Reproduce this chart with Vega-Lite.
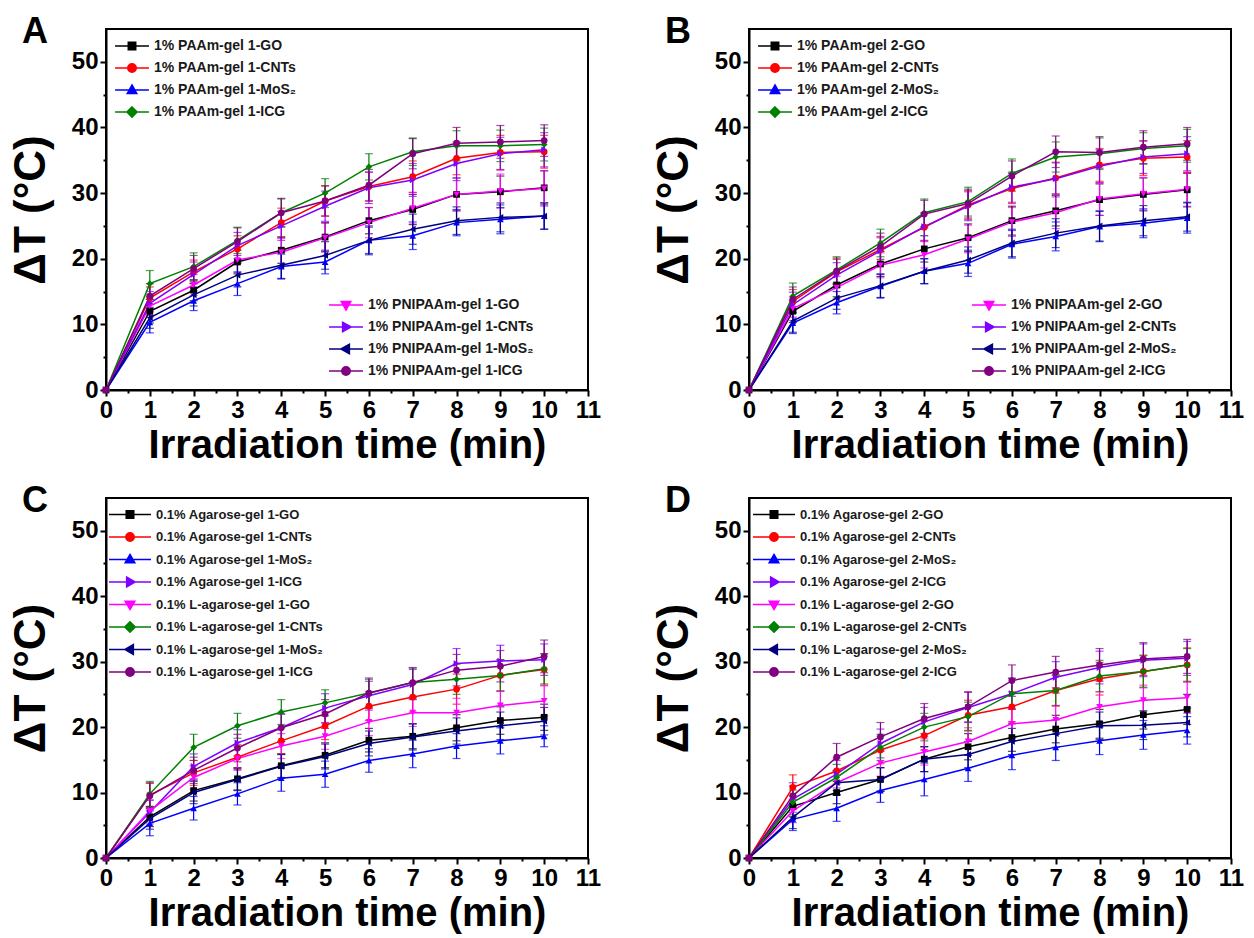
{
"$schema": "https://vega.github.io/schema/vega-lite/v6.json",
"padding": {"left": 8, "top": 13, "right": 5, "bottom": 5},
"columns": 2,
"spacing": {"row": 108, "column": 161},
"bounds": "flush",
"data": {"values": [
{"panel":"A","series":"1% PAAm-gel 1-GO","t":0,"dT":0,"err":0},{"panel":"A","series":"1% PAAm-gel 1-GO","t":1,"dT":12.0,"err":1.8},{"panel":"A","series":"1% PAAm-gel 1-GO","t":2,"dT":15.2,"err":1.6},{"panel":"A","series":"1% PAAm-gel 1-GO","t":3,"dT":19.5,"err":1.8},{"panel":"A","series":"1% PAAm-gel 1-GO","t":4,"dT":21.3,"err":2.0},{"panel":"A","series":"1% PAAm-gel 1-GO","t":5,"dT":23.3,"err":2.2},{"panel":"A","series":"1% PAAm-gel 1-GO","t":6,"dT":25.8,"err":2.0},{"panel":"A","series":"1% PAAm-gel 1-GO","t":7,"dT":27.5,"err":2.3},{"panel":"A","series":"1% PAAm-gel 1-GO","t":8,"dT":29.8,"err":2.5},{"panel":"A","series":"1% PAAm-gel 1-GO","t":9,"dT":30.2,"err":2.4},{"panel":"A","series":"1% PAAm-gel 1-GO","t":10,"dT":30.8,"err":2.6},
{"panel":"A","series":"1% PAAm-gel 1-CNTs","t":0,"dT":0,"err":0},{"panel":"A","series":"1% PAAm-gel 1-CNTs","t":1,"dT":14.0,"err":1.7},{"panel":"A","series":"1% PAAm-gel 1-CNTs","t":2,"dT":18.0,"err":1.8},{"panel":"A","series":"1% PAAm-gel 1-CNTs","t":3,"dT":21.5,"err":2.0},{"panel":"A","series":"1% PAAm-gel 1-CNTs","t":4,"dT":25.5,"err":2.2},{"panel":"A","series":"1% PAAm-gel 1-CNTs","t":5,"dT":28.8,"err":2.3},{"panel":"A","series":"1% PAAm-gel 1-CNTs","t":6,"dT":31.0,"err":2.2},{"panel":"A","series":"1% PAAm-gel 1-CNTs","t":7,"dT":32.5,"err":2.4},{"panel":"A","series":"1% PAAm-gel 1-CNTs","t":8,"dT":35.3,"err":2.5},{"panel":"A","series":"1% PAAm-gel 1-CNTs","t":9,"dT":36.2,"err":2.6},{"panel":"A","series":"1% PAAm-gel 1-CNTs","t":10,"dT":36.3,"err":2.5},
{"panel":"A","series":"1% PAAm-gel 1-MoS₂","t":0,"dT":0,"err":0},{"panel":"A","series":"1% PAAm-gel 1-MoS₂","t":1,"dT":10.3,"err":1.6},{"panel":"A","series":"1% PAAm-gel 1-MoS₂","t":2,"dT":13.6,"err":1.5},{"panel":"A","series":"1% PAAm-gel 1-MoS₂","t":3,"dT":16.2,"err":1.8},{"panel":"A","series":"1% PAAm-gel 1-MoS₂","t":4,"dT":18.8,"err":1.9},{"panel":"A","series":"1% PAAm-gel 1-MoS₂","t":5,"dT":19.5,"err":1.8},{"panel":"A","series":"1% PAAm-gel 1-MoS₂","t":6,"dT":22.8,"err":2.0},{"panel":"A","series":"1% PAAm-gel 1-MoS₂","t":7,"dT":23.5,"err":2.1},{"panel":"A","series":"1% PAAm-gel 1-MoS₂","t":8,"dT":25.5,"err":2.0},{"panel":"A","series":"1% PAAm-gel 1-MoS₂","t":9,"dT":26.0,"err":2.2},{"panel":"A","series":"1% PAAm-gel 1-MoS₂","t":10,"dT":26.5,"err":2.0},
{"panel":"A","series":"1% PAAm-gel 1-ICG","t":0,"dT":0,"err":0},{"panel":"A","series":"1% PAAm-gel 1-ICG","t":1,"dT":16.2,"err":2.0},{"panel":"A","series":"1% PAAm-gel 1-ICG","t":2,"dT":18.8,"err":2.1},{"panel":"A","series":"1% PAAm-gel 1-ICG","t":3,"dT":22.8,"err":2.0},{"panel":"A","series":"1% PAAm-gel 1-ICG","t":4,"dT":27.0,"err":2.1},{"panel":"A","series":"1% PAAm-gel 1-ICG","t":5,"dT":30.0,"err":2.2},{"panel":"A","series":"1% PAAm-gel 1-ICG","t":6,"dT":34.0,"err":2.0},{"panel":"A","series":"1% PAAm-gel 1-ICG","t":7,"dT":36.3,"err":2.1},{"panel":"A","series":"1% PAAm-gel 1-ICG","t":8,"dT":37.2,"err":2.3},{"panel":"A","series":"1% PAAm-gel 1-ICG","t":9,"dT":37.2,"err":2.4},{"panel":"A","series":"1% PAAm-gel 1-ICG","t":10,"dT":37.4,"err":2.5},
{"panel":"A","series":"1% PNIPAAm-gel 1-GO","t":0,"dT":0,"err":0},{"panel":"A","series":"1% PNIPAAm-gel 1-GO","t":1,"dT":12.8,"err":1.7},{"panel":"A","series":"1% PNIPAAm-gel 1-GO","t":2,"dT":16.0,"err":1.6},{"panel":"A","series":"1% PNIPAAm-gel 1-GO","t":3,"dT":19.8,"err":1.9},{"panel":"A","series":"1% PNIPAAm-gel 1-GO","t":4,"dT":21.0,"err":2.1},{"panel":"A","series":"1% PNIPAAm-gel 1-GO","t":5,"dT":23.2,"err":2.2},{"panel":"A","series":"1% PNIPAAm-gel 1-GO","t":6,"dT":25.5,"err":2.3},{"panel":"A","series":"1% PNIPAAm-gel 1-GO","t":7,"dT":27.7,"err":2.4},{"panel":"A","series":"1% PNIPAAm-gel 1-GO","t":8,"dT":29.8,"err":2.5},{"panel":"A","series":"1% PNIPAAm-gel 1-GO","t":9,"dT":30.3,"err":2.6},{"panel":"A","series":"1% PNIPAAm-gel 1-GO","t":10,"dT":30.7,"err":2.7},
{"panel":"A","series":"1% PNIPAAm-gel 1-CNTs","t":0,"dT":0,"err":0},{"panel":"A","series":"1% PNIPAAm-gel 1-CNTs","t":1,"dT":13.2,"err":1.8},{"panel":"A","series":"1% PNIPAAm-gel 1-CNTs","t":2,"dT":17.6,"err":1.9},{"panel":"A","series":"1% PNIPAAm-gel 1-CNTs","t":3,"dT":22.0,"err":2.0},{"panel":"A","series":"1% PNIPAAm-gel 1-CNTs","t":4,"dT":25.0,"err":2.2},{"panel":"A","series":"1% PNIPAAm-gel 1-CNTs","t":5,"dT":28.0,"err":2.3},{"panel":"A","series":"1% PNIPAAm-gel 1-CNTs","t":6,"dT":30.8,"err":2.4},{"panel":"A","series":"1% PNIPAAm-gel 1-CNTs","t":7,"dT":32.0,"err":2.5},{"panel":"A","series":"1% PNIPAAm-gel 1-CNTs","t":8,"dT":34.5,"err":2.6},{"panel":"A","series":"1% PNIPAAm-gel 1-CNTs","t":9,"dT":36.0,"err":2.5},{"panel":"A","series":"1% PNIPAAm-gel 1-CNTs","t":10,"dT":36.6,"err":2.6},
{"panel":"A","series":"1% PNIPAAm-gel 1-MoS₂","t":0,"dT":0,"err":0},{"panel":"A","series":"1% PNIPAAm-gel 1-MoS₂","t":1,"dT":11.0,"err":1.6},{"panel":"A","series":"1% PNIPAAm-gel 1-MoS₂","t":2,"dT":14.5,"err":1.7},{"panel":"A","series":"1% PNIPAAm-gel 1-MoS₂","t":3,"dT":17.5,"err":1.8},{"panel":"A","series":"1% PNIPAAm-gel 1-MoS₂","t":4,"dT":19.0,"err":2.0},{"panel":"A","series":"1% PNIPAAm-gel 1-MoS₂","t":5,"dT":20.5,"err":2.1},{"panel":"A","series":"1% PNIPAAm-gel 1-MoS₂","t":6,"dT":22.8,"err":2.2},{"panel":"A","series":"1% PNIPAAm-gel 1-MoS₂","t":7,"dT":24.5,"err":2.3},{"panel":"A","series":"1% PNIPAAm-gel 1-MoS₂","t":8,"dT":25.8,"err":2.1},{"panel":"A","series":"1% PNIPAAm-gel 1-MoS₂","t":9,"dT":26.3,"err":2.2},{"panel":"A","series":"1% PNIPAAm-gel 1-MoS₂","t":10,"dT":26.5,"err":2.0},
{"panel":"A","series":"1% PNIPAAm-gel 1-ICG","t":0,"dT":0,"err":0},{"panel":"A","series":"1% PNIPAAm-gel 1-ICG","t":1,"dT":14.3,"err":1.9},{"panel":"A","series":"1% PNIPAAm-gel 1-ICG","t":2,"dT":18.5,"err":2.0},{"panel":"A","series":"1% PNIPAAm-gel 1-ICG","t":3,"dT":22.6,"err":2.1},{"panel":"A","series":"1% PNIPAAm-gel 1-ICG","t":4,"dT":27.0,"err":2.2},{"panel":"A","series":"1% PNIPAAm-gel 1-ICG","t":5,"dT":28.8,"err":2.3},{"panel":"A","series":"1% PNIPAAm-gel 1-ICG","t":6,"dT":31.2,"err":2.4},{"panel":"A","series":"1% PNIPAAm-gel 1-ICG","t":7,"dT":36.0,"err":2.3},{"panel":"A","series":"1% PNIPAAm-gel 1-ICG","t":8,"dT":37.6,"err":2.4},{"panel":"A","series":"1% PNIPAAm-gel 1-ICG","t":9,"dT":37.8,"err":2.5},{"panel":"A","series":"1% PNIPAAm-gel 1-ICG","t":10,"dT":38.0,"err":2.4},
{"panel":"B","series":"1% PAAm-gel 2-GO","t":0,"dT":0,"err":0},{"panel":"B","series":"1% PAAm-gel 2-GO","t":1,"dT":12.0,"err":1.7},{"panel":"B","series":"1% PAAm-gel 2-GO","t":2,"dT":16.0,"err":1.8},{"panel":"B","series":"1% PAAm-gel 2-GO","t":3,"dT":19.2,"err":1.9},{"panel":"B","series":"1% PAAm-gel 2-GO","t":4,"dT":21.5,"err":2.0},{"panel":"B","series":"1% PAAm-gel 2-GO","t":5,"dT":23.2,"err":2.1},{"panel":"B","series":"1% PAAm-gel 2-GO","t":6,"dT":25.8,"err":2.2},{"panel":"B","series":"1% PAAm-gel 2-GO","t":7,"dT":27.3,"err":2.3},{"panel":"B","series":"1% PAAm-gel 2-GO","t":8,"dT":29.0,"err":2.4},{"panel":"B","series":"1% PAAm-gel 2-GO","t":9,"dT":29.8,"err":2.5},{"panel":"B","series":"1% PAAm-gel 2-GO","t":10,"dT":30.5,"err":2.6},
{"panel":"B","series":"1% PAAm-gel 2-CNTs","t":0,"dT":0,"err":0},{"panel":"B","series":"1% PAAm-gel 2-CNTs","t":1,"dT":13.5,"err":1.8},{"panel":"B","series":"1% PAAm-gel 2-CNTs","t":2,"dT":18.0,"err":1.9},{"panel":"B","series":"1% PAAm-gel 2-CNTs","t":3,"dT":21.4,"err":2.0},{"panel":"B","series":"1% PAAm-gel 2-CNTs","t":4,"dT":24.8,"err":2.1},{"panel":"B","series":"1% PAAm-gel 2-CNTs","t":5,"dT":28.2,"err":2.2},{"panel":"B","series":"1% PAAm-gel 2-CNTs","t":6,"dT":30.7,"err":2.3},{"panel":"B","series":"1% PAAm-gel 2-CNTs","t":7,"dT":32.3,"err":2.4},{"panel":"B","series":"1% PAAm-gel 2-CNTs","t":8,"dT":34.3,"err":2.5},{"panel":"B","series":"1% PAAm-gel 2-CNTs","t":9,"dT":35.3,"err":2.6},{"panel":"B","series":"1% PAAm-gel 2-CNTs","t":10,"dT":35.5,"err":2.5},
{"panel":"B","series":"1% PAAm-gel 2-MoS₂","t":0,"dT":0,"err":0},{"panel":"B","series":"1% PAAm-gel 2-MoS₂","t":1,"dT":10.2,"err":1.6},{"panel":"B","series":"1% PAAm-gel 2-MoS₂","t":2,"dT":13.3,"err":1.7},{"panel":"B","series":"1% PAAm-gel 2-MoS₂","t":3,"dT":15.8,"err":1.8},{"panel":"B","series":"1% PAAm-gel 2-MoS₂","t":4,"dT":18.1,"err":1.9},{"panel":"B","series":"1% PAAm-gel 2-MoS₂","t":5,"dT":19.3,"err":2.0},{"panel":"B","series":"1% PAAm-gel 2-MoS₂","t":6,"dT":22.2,"err":2.1},{"panel":"B","series":"1% PAAm-gel 2-MoS₂","t":7,"dT":23.4,"err":2.2},{"panel":"B","series":"1% PAAm-gel 2-MoS₂","t":8,"dT":24.9,"err":2.3},{"panel":"B","series":"1% PAAm-gel 2-MoS₂","t":9,"dT":25.4,"err":2.2},{"panel":"B","series":"1% PAAm-gel 2-MoS₂","t":10,"dT":26.2,"err":2.3},
{"panel":"B","series":"1% PAAm-gel 2-ICG","t":0,"dT":0,"err":0},{"panel":"B","series":"1% PAAm-gel 2-ICG","t":1,"dT":14.3,"err":2.0},{"panel":"B","series":"1% PAAm-gel 2-ICG","t":2,"dT":18.3,"err":2.0},{"panel":"B","series":"1% PAAm-gel 2-ICG","t":3,"dT":22.4,"err":2.1},{"panel":"B","series":"1% PAAm-gel 2-ICG","t":4,"dT":27.0,"err":2.1},{"panel":"B","series":"1% PAAm-gel 2-ICG","t":5,"dT":28.7,"err":2.2},{"panel":"B","series":"1% PAAm-gel 2-ICG","t":6,"dT":33.0,"err":2.2},{"panel":"B","series":"1% PAAm-gel 2-ICG","t":7,"dT":35.5,"err":2.3},{"panel":"B","series":"1% PAAm-gel 2-ICG","t":8,"dT":36.0,"err":2.4},{"panel":"B","series":"1% PAAm-gel 2-ICG","t":9,"dT":36.8,"err":2.4},{"panel":"B","series":"1% PAAm-gel 2-ICG","t":10,"dT":37.2,"err":2.5},
{"panel":"B","series":"1% PNIPAAm-gel 2-GO","t":0,"dT":0,"err":0},{"panel":"B","series":"1% PNIPAAm-gel 2-GO","t":1,"dT":12.4,"err":1.8},{"panel":"B","series":"1% PNIPAAm-gel 2-GO","t":2,"dT":15.6,"err":1.7},{"panel":"B","series":"1% PNIPAAm-gel 2-GO","t":3,"dT":19.0,"err":1.9},{"panel":"B","series":"1% PNIPAAm-gel 2-GO","t":4,"dT":20.6,"err":2.0},{"panel":"B","series":"1% PNIPAAm-gel 2-GO","t":5,"dT":23.0,"err":2.1},{"panel":"B","series":"1% PNIPAAm-gel 2-GO","t":6,"dT":25.6,"err":2.2},{"panel":"B","series":"1% PNIPAAm-gel 2-GO","t":7,"dT":27.0,"err":2.4},{"panel":"B","series":"1% PNIPAAm-gel 2-GO","t":8,"dT":29.1,"err":2.5},{"panel":"B","series":"1% PNIPAAm-gel 2-GO","t":9,"dT":29.9,"err":2.5},{"panel":"B","series":"1% PNIPAAm-gel 2-GO","t":10,"dT":30.6,"err":2.6},
{"panel":"B","series":"1% PNIPAAm-gel 2-CNTs","t":0,"dT":0,"err":0},{"panel":"B","series":"1% PNIPAAm-gel 2-CNTs","t":1,"dT":13.0,"err":1.9},{"panel":"B","series":"1% PNIPAAm-gel 2-CNTs","t":2,"dT":17.5,"err":1.9},{"panel":"B","series":"1% PNIPAAm-gel 2-CNTs","t":3,"dT":21.2,"err":2.0},{"panel":"B","series":"1% PNIPAAm-gel 2-CNTs","t":4,"dT":24.9,"err":2.1},{"panel":"B","series":"1% PNIPAAm-gel 2-CNTs","t":5,"dT":28.0,"err":2.2},{"panel":"B","series":"1% PNIPAAm-gel 2-CNTs","t":6,"dT":30.9,"err":2.3},{"panel":"B","series":"1% PNIPAAm-gel 2-CNTs","t":7,"dT":32.2,"err":2.4},{"panel":"B","series":"1% PNIPAAm-gel 2-CNTs","t":8,"dT":34.1,"err":2.5},{"panel":"B","series":"1% PNIPAAm-gel 2-CNTs","t":9,"dT":35.5,"err":2.5},{"panel":"B","series":"1% PNIPAAm-gel 2-CNTs","t":10,"dT":36.0,"err":2.6},
{"panel":"B","series":"1% PNIPAAm-gel 2-MoS₂","t":0,"dT":0,"err":0},{"panel":"B","series":"1% PNIPAAm-gel 2-MoS₂","t":1,"dT":10.5,"err":1.7},{"panel":"B","series":"1% PNIPAAm-gel 2-MoS₂","t":2,"dT":14.0,"err":1.7},{"panel":"B","series":"1% PNIPAAm-gel 2-MoS₂","t":3,"dT":15.9,"err":1.8},{"panel":"B","series":"1% PNIPAAm-gel 2-MoS₂","t":4,"dT":18.1,"err":1.9},{"panel":"B","series":"1% PNIPAAm-gel 2-MoS₂","t":5,"dT":19.8,"err":2.0},{"panel":"B","series":"1% PNIPAAm-gel 2-MoS₂","t":6,"dT":22.4,"err":2.1},{"panel":"B","series":"1% PNIPAAm-gel 2-MoS₂","t":7,"dT":23.9,"err":2.2},{"panel":"B","series":"1% PNIPAAm-gel 2-MoS₂","t":8,"dT":25.0,"err":2.3},{"panel":"B","series":"1% PNIPAAm-gel 2-MoS₂","t":9,"dT":25.8,"err":2.3},{"panel":"B","series":"1% PNIPAAm-gel 2-MoS₂","t":10,"dT":26.4,"err":2.2},
{"panel":"B","series":"1% PNIPAAm-gel 2-ICG","t":0,"dT":0,"err":0},{"panel":"B","series":"1% PNIPAAm-gel 2-ICG","t":1,"dT":13.8,"err":1.9},{"panel":"B","series":"1% PNIPAAm-gel 2-ICG","t":2,"dT":18.1,"err":2.0},{"panel":"B","series":"1% PNIPAAm-gel 2-ICG","t":3,"dT":21.9,"err":2.0},{"panel":"B","series":"1% PNIPAAm-gel 2-ICG","t":4,"dT":26.8,"err":2.1},{"panel":"B","series":"1% PNIPAAm-gel 2-ICG","t":5,"dT":28.4,"err":2.2},{"panel":"B","series":"1% PNIPAAm-gel 2-ICG","t":6,"dT":32.6,"err":2.3},{"panel":"B","series":"1% PNIPAAm-gel 2-ICG","t":7,"dT":36.3,"err":2.4},{"panel":"B","series":"1% PNIPAAm-gel 2-ICG","t":8,"dT":36.2,"err":2.4},{"panel":"B","series":"1% PNIPAAm-gel 2-ICG","t":9,"dT":37.0,"err":2.5},{"panel":"B","series":"1% PNIPAAm-gel 2-ICG","t":10,"dT":37.5,"err":2.5},
{"panel":"C","series":"0.1% Agarose-gel 1-GO","t":0,"dT":0,"err":0},{"panel":"C","series":"0.1% Agarose-gel 1-GO","t":1,"dT":6.3,"err":1.5},{"panel":"C","series":"0.1% Agarose-gel 1-GO","t":2,"dT":10.3,"err":1.6},{"panel":"C","series":"0.1% Agarose-gel 1-GO","t":3,"dT":12.1,"err":1.7},{"panel":"C","series":"0.1% Agarose-gel 1-GO","t":4,"dT":14.1,"err":1.8},{"panel":"C","series":"0.1% Agarose-gel 1-GO","t":5,"dT":15.7,"err":1.9},{"panel":"C","series":"0.1% Agarose-gel 1-GO","t":6,"dT":18.0,"err":1.8},{"panel":"C","series":"0.1% Agarose-gel 1-GO","t":7,"dT":18.6,"err":1.9},{"panel":"C","series":"0.1% Agarose-gel 1-GO","t":8,"dT":19.9,"err":2.0},{"panel":"C","series":"0.1% Agarose-gel 1-GO","t":9,"dT":21.0,"err":2.1},{"panel":"C","series":"0.1% Agarose-gel 1-GO","t":10,"dT":21.5,"err":2.0},
{"panel":"C","series":"0.1% Agarose-gel 1-CNTs","t":0,"dT":0,"err":0},{"panel":"C","series":"0.1% Agarose-gel 1-CNTs","t":1,"dT":9.6,"err":1.8},{"panel":"C","series":"0.1% Agarose-gel 1-CNTs","t":2,"dT":13.0,"err":1.9},{"panel":"C","series":"0.1% Agarose-gel 1-CNTs","t":3,"dT":15.4,"err":1.9},{"panel":"C","series":"0.1% Agarose-gel 1-CNTs","t":4,"dT":17.9,"err":2.0},{"panel":"C","series":"0.1% Agarose-gel 1-CNTs","t":5,"dT":20.2,"err":2.1},{"panel":"C","series":"0.1% Agarose-gel 1-CNTs","t":6,"dT":23.2,"err":2.2},{"panel":"C","series":"0.1% Agarose-gel 1-CNTs","t":7,"dT":24.6,"err":2.3},{"panel":"C","series":"0.1% Agarose-gel 1-CNTs","t":8,"dT":25.8,"err":2.3},{"panel":"C","series":"0.1% Agarose-gel 1-CNTs","t":9,"dT":27.9,"err":2.4},{"panel":"C","series":"0.1% Agarose-gel 1-CNTs","t":10,"dT":28.8,"err":2.4},
{"panel":"C","series":"0.1% Agarose-gel 1-MoS₂","t":0,"dT":0,"err":0},{"panel":"C","series":"0.1% Agarose-gel 1-MoS₂","t":1,"dT":5.3,"err":1.9},{"panel":"C","series":"0.1% Agarose-gel 1-MoS₂","t":2,"dT":7.6,"err":1.8},{"panel":"C","series":"0.1% Agarose-gel 1-MoS₂","t":3,"dT":9.8,"err":1.7},{"panel":"C","series":"0.1% Agarose-gel 1-MoS₂","t":4,"dT":12.2,"err":2.0},{"panel":"C","series":"0.1% Agarose-gel 1-MoS₂","t":5,"dT":12.8,"err":2.0},{"panel":"C","series":"0.1% Agarose-gel 1-MoS₂","t":6,"dT":14.9,"err":1.8},{"panel":"C","series":"0.1% Agarose-gel 1-MoS₂","t":7,"dT":15.9,"err":2.1},{"panel":"C","series":"0.1% Agarose-gel 1-MoS₂","t":8,"dT":17.1,"err":1.9},{"panel":"C","series":"0.1% Agarose-gel 1-MoS₂","t":9,"dT":17.9,"err":2.0},{"panel":"C","series":"0.1% Agarose-gel 1-MoS₂","t":10,"dT":18.6,"err":1.6},
{"panel":"C","series":"0.1% Agarose-gel 1-ICG","t":0,"dT":0,"err":0},{"panel":"C","series":"0.1% Agarose-gel 1-ICG","t":1,"dT":7.0,"err":1.8},{"panel":"C","series":"0.1% Agarose-gel 1-ICG","t":2,"dT":14.0,"err":1.9},{"panel":"C","series":"0.1% Agarose-gel 1-ICG","t":3,"dT":17.6,"err":2.0},{"panel":"C","series":"0.1% Agarose-gel 1-ICG","t":4,"dT":19.9,"err":2.1},{"panel":"C","series":"0.1% Agarose-gel 1-ICG","t":5,"dT":22.9,"err":2.2},{"panel":"C","series":"0.1% Agarose-gel 1-ICG","t":6,"dT":24.8,"err":2.2},{"panel":"C","series":"0.1% Agarose-gel 1-ICG","t":7,"dT":26.5,"err":2.3},{"panel":"C","series":"0.1% Agarose-gel 1-ICG","t":8,"dT":29.7,"err":2.3},{"panel":"C","series":"0.1% Agarose-gel 1-ICG","t":9,"dT":30.1,"err":2.4},{"panel":"C","series":"0.1% Agarose-gel 1-ICG","t":10,"dT":30.3,"err":2.4},
{"panel":"C","series":"0.1% L-agarose-gel 1-GO","t":0,"dT":0,"err":0},{"panel":"C","series":"0.1% L-agarose-gel 1-GO","t":1,"dT":7.2,"err":1.7},{"panel":"C","series":"0.1% L-agarose-gel 1-GO","t":2,"dT":12.3,"err":1.8},{"panel":"C","series":"0.1% L-agarose-gel 1-GO","t":3,"dT":15.2,"err":1.8},{"panel":"C","series":"0.1% L-agarose-gel 1-GO","t":4,"dT":17.1,"err":1.9},{"panel":"C","series":"0.1% L-agarose-gel 1-GO","t":5,"dT":18.6,"err":2.0},{"panel":"C","series":"0.1% L-agarose-gel 1-GO","t":6,"dT":20.8,"err":2.1},{"panel":"C","series":"0.1% L-agarose-gel 1-GO","t":7,"dT":22.2,"err":2.1},{"panel":"C","series":"0.1% L-agarose-gel 1-GO","t":8,"dT":22.2,"err":2.2},{"panel":"C","series":"0.1% L-agarose-gel 1-GO","t":9,"dT":23.3,"err":2.2},{"panel":"C","series":"0.1% L-agarose-gel 1-GO","t":10,"dT":24.0,"err":2.3},
{"panel":"C","series":"0.1% L-agarose-gel 1-CNTs","t":0,"dT":0,"err":0},{"panel":"C","series":"0.1% L-agarose-gel 1-CNTs","t":1,"dT":9.8,"err":1.9},{"panel":"C","series":"0.1% L-agarose-gel 1-CNTs","t":2,"dT":16.9,"err":2.0},{"panel":"C","series":"0.1% L-agarose-gel 1-CNTs","t":3,"dT":20.2,"err":1.9},{"panel":"C","series":"0.1% L-agarose-gel 1-CNTs","t":4,"dT":22.3,"err":1.9},{"panel":"C","series":"0.1% L-agarose-gel 1-CNTs","t":5,"dT":23.7,"err":2.0},{"panel":"C","series":"0.1% L-agarose-gel 1-CNTs","t":6,"dT":25.2,"err":2.1},{"panel":"C","series":"0.1% L-agarose-gel 1-CNTs","t":7,"dT":26.8,"err":2.2},{"panel":"C","series":"0.1% L-agarose-gel 1-CNTs","t":8,"dT":27.3,"err":2.3},{"panel":"C","series":"0.1% L-agarose-gel 1-CNTs","t":9,"dT":27.9,"err":2.4},{"panel":"C","series":"0.1% L-agarose-gel 1-CNTs","t":10,"dT":28.9,"err":2.3},
{"panel":"C","series":"0.1% L-agarose-gel 1-MoS₂","t":0,"dT":0,"err":0},{"panel":"C","series":"0.1% L-agarose-gel 1-MoS₂","t":1,"dT":6.0,"err":1.6},{"panel":"C","series":"0.1% L-agarose-gel 1-MoS₂","t":2,"dT":10.0,"err":1.7},{"panel":"C","series":"0.1% L-agarose-gel 1-MoS₂","t":3,"dT":12.0,"err":1.7},{"panel":"C","series":"0.1% L-agarose-gel 1-MoS₂","t":4,"dT":14.0,"err":1.8},{"panel":"C","series":"0.1% L-agarose-gel 1-MoS₂","t":5,"dT":15.5,"err":1.9},{"panel":"C","series":"0.1% L-agarose-gel 1-MoS₂","t":6,"dT":17.5,"err":1.9},{"panel":"C","series":"0.1% L-agarose-gel 1-MoS₂","t":7,"dT":18.5,"err":2.0},{"panel":"C","series":"0.1% L-agarose-gel 1-MoS₂","t":8,"dT":19.4,"err":2.0},{"panel":"C","series":"0.1% L-agarose-gel 1-MoS₂","t":9,"dT":20.2,"err":2.1},{"panel":"C","series":"0.1% L-agarose-gel 1-MoS₂","t":10,"dT":20.9,"err":2.1},
{"panel":"C","series":"0.1% L-agarose-gel 1-ICG","t":0,"dT":0,"err":0},{"panel":"C","series":"0.1% L-agarose-gel 1-ICG","t":1,"dT":9.5,"err":2.0},{"panel":"C","series":"0.1% L-agarose-gel 1-ICG","t":2,"dT":13.4,"err":2.0},{"panel":"C","series":"0.1% L-agarose-gel 1-ICG","t":3,"dT":16.8,"err":2.1},{"panel":"C","series":"0.1% L-agarose-gel 1-ICG","t":4,"dT":19.9,"err":2.1},{"panel":"C","series":"0.1% L-agarose-gel 1-ICG","t":5,"dT":22.0,"err":2.2},{"panel":"C","series":"0.1% L-agarose-gel 1-ICG","t":6,"dT":25.2,"err":2.3},{"panel":"C","series":"0.1% L-agarose-gel 1-ICG","t":7,"dT":26.8,"err":2.3},{"panel":"C","series":"0.1% L-agarose-gel 1-ICG","t":8,"dT":28.7,"err":2.4},{"panel":"C","series":"0.1% L-agarose-gel 1-ICG","t":9,"dT":29.3,"err":2.4},{"panel":"C","series":"0.1% L-agarose-gel 1-ICG","t":10,"dT":30.8,"err":2.5},
{"panel":"D","series":"0.1% Agarose-gel 2-GO","t":0,"dT":0,"err":0},{"panel":"D","series":"0.1% Agarose-gel 2-GO","t":1,"dT":7.9,"err":1.6},{"panel":"D","series":"0.1% Agarose-gel 2-GO","t":2,"dT":10.0,"err":1.7},{"panel":"D","series":"0.1% Agarose-gel 2-GO","t":3,"dT":12.0,"err":1.8},{"panel":"D","series":"0.1% Agarose-gel 2-GO","t":4,"dT":15.1,"err":1.9},{"panel":"D","series":"0.1% Agarose-gel 2-GO","t":5,"dT":17.0,"err":2.0},{"panel":"D","series":"0.1% Agarose-gel 2-GO","t":6,"dT":18.4,"err":2.1},{"panel":"D","series":"0.1% Agarose-gel 2-GO","t":7,"dT":19.7,"err":2.1},{"panel":"D","series":"0.1% Agarose-gel 2-GO","t":8,"dT":20.5,"err":2.2},{"panel":"D","series":"0.1% Agarose-gel 2-GO","t":9,"dT":21.9,"err":2.2},{"panel":"D","series":"0.1% Agarose-gel 2-GO","t":10,"dT":22.7,"err":2.3},
{"panel":"D","series":"0.1% Agarose-gel 2-CNTs","t":0,"dT":0,"err":0},{"panel":"D","series":"0.1% Agarose-gel 2-CNTs","t":1,"dT":10.8,"err":1.9},{"panel":"D","series":"0.1% Agarose-gel 2-CNTs","t":2,"dT":13.3,"err":2.0},{"panel":"D","series":"0.1% Agarose-gel 2-CNTs","t":3,"dT":16.5,"err":2.1},{"panel":"D","series":"0.1% Agarose-gel 2-CNTs","t":4,"dT":18.7,"err":2.2},{"panel":"D","series":"0.1% Agarose-gel 2-CNTs","t":5,"dT":21.8,"err":2.3},{"panel":"D","series":"0.1% Agarose-gel 2-CNTs","t":6,"dT":23.1,"err":2.3},{"panel":"D","series":"0.1% Agarose-gel 2-CNTs","t":7,"dT":25.6,"err":2.4},{"panel":"D","series":"0.1% Agarose-gel 2-CNTs","t":8,"dT":27.4,"err":2.5},{"panel":"D","series":"0.1% Agarose-gel 2-CNTs","t":9,"dT":28.5,"err":2.5},{"panel":"D","series":"0.1% Agarose-gel 2-CNTs","t":10,"dT":29.5,"err":2.6},
{"panel":"D","series":"0.1% Agarose-gel 2-MoS₂","t":0,"dT":0,"err":0},{"panel":"D","series":"0.1% Agarose-gel 2-MoS₂","t":1,"dT":5.9,"err":1.7},{"panel":"D","series":"0.1% Agarose-gel 2-MoS₂","t":2,"dT":7.6,"err":2.0},{"panel":"D","series":"0.1% Agarose-gel 2-MoS₂","t":3,"dT":10.3,"err":1.8},{"panel":"D","series":"0.1% Agarose-gel 2-MoS₂","t":4,"dT":12.0,"err":2.5},{"panel":"D","series":"0.1% Agarose-gel 2-MoS₂","t":5,"dT":13.7,"err":2.0},{"panel":"D","series":"0.1% Agarose-gel 2-MoS₂","t":6,"dT":15.7,"err":2.2},{"panel":"D","series":"0.1% Agarose-gel 2-MoS₂","t":7,"dT":16.9,"err":2.0},{"panel":"D","series":"0.1% Agarose-gel 2-MoS₂","t":8,"dT":17.9,"err":2.1},{"panel":"D","series":"0.1% Agarose-gel 2-MoS₂","t":9,"dT":18.8,"err":2.2},{"panel":"D","series":"0.1% Agarose-gel 2-MoS₂","t":10,"dT":19.5,"err":2.1},
{"panel":"D","series":"0.1% Agarose-gel 2-ICG","t":0,"dT":0,"err":0},{"panel":"D","series":"0.1% Agarose-gel 2-ICG","t":1,"dT":9.0,"err":2.0},{"panel":"D","series":"0.1% Agarose-gel 2-ICG","t":2,"dT":12.8,"err":2.1},{"panel":"D","series":"0.1% Agarose-gel 2-ICG","t":3,"dT":17.5,"err":2.2},{"panel":"D","series":"0.1% Agarose-gel 2-ICG","t":4,"dT":20.8,"err":2.2},{"panel":"D","series":"0.1% Agarose-gel 2-ICG","t":5,"dT":23.0,"err":2.3},{"panel":"D","series":"0.1% Agarose-gel 2-ICG","t":6,"dT":25.1,"err":2.4},{"panel":"D","series":"0.1% Agarose-gel 2-ICG","t":7,"dT":27.6,"err":2.4},{"panel":"D","series":"0.1% Agarose-gel 2-ICG","t":8,"dT":29.1,"err":2.5},{"panel":"D","series":"0.1% Agarose-gel 2-ICG","t":9,"dT":30.2,"err":2.5},{"panel":"D","series":"0.1% Agarose-gel 2-ICG","t":10,"dT":30.5,"err":2.6},
{"panel":"D","series":"0.1% L-agarose-gel 2-GO","t":0,"dT":0,"err":0},{"panel":"D","series":"0.1% L-agarose-gel 2-GO","t":1,"dT":7.2,"err":1.8},{"panel":"D","series":"0.1% L-agarose-gel 2-GO","t":2,"dT":11.5,"err":1.9},{"panel":"D","series":"0.1% L-agarose-gel 2-GO","t":3,"dT":14.5,"err":2.0},{"panel":"D","series":"0.1% L-agarose-gel 2-GO","t":4,"dT":16.2,"err":2.0},{"panel":"D","series":"0.1% L-agarose-gel 2-GO","t":5,"dT":17.8,"err":2.1},{"panel":"D","series":"0.1% L-agarose-gel 2-GO","t":6,"dT":20.5,"err":2.2},{"panel":"D","series":"0.1% L-agarose-gel 2-GO","t":7,"dT":21.1,"err":2.2},{"panel":"D","series":"0.1% L-agarose-gel 2-GO","t":8,"dT":23.1,"err":2.3},{"panel":"D","series":"0.1% L-agarose-gel 2-GO","t":9,"dT":24.1,"err":2.3},{"panel":"D","series":"0.1% L-agarose-gel 2-GO","t":10,"dT":24.5,"err":2.4},
{"panel":"D","series":"0.1% L-agarose-gel 2-CNTs","t":0,"dT":0,"err":0},{"panel":"D","series":"0.1% L-agarose-gel 2-CNTs","t":1,"dT":8.5,"err":1.9},{"panel":"D","series":"0.1% L-agarose-gel 2-CNTs","t":2,"dT":12.3,"err":2.0},{"panel":"D","series":"0.1% L-agarose-gel 2-CNTs","t":3,"dT":16.9,"err":2.0},{"panel":"D","series":"0.1% L-agarose-gel 2-CNTs","t":4,"dT":20.0,"err":2.1},{"panel":"D","series":"0.1% L-agarose-gel 2-CNTs","t":5,"dT":21.6,"err":2.2},{"panel":"D","series":"0.1% L-agarose-gel 2-CNTs","t":6,"dT":25.1,"err":2.3},{"panel":"D","series":"0.1% L-agarose-gel 2-CNTs","t":7,"dT":25.6,"err":2.3},{"panel":"D","series":"0.1% L-agarose-gel 2-CNTs","t":8,"dT":27.8,"err":2.4},{"panel":"D","series":"0.1% L-agarose-gel 2-CNTs","t":9,"dT":28.5,"err":2.4},{"panel":"D","series":"0.1% L-agarose-gel 2-CNTs","t":10,"dT":29.5,"err":2.5},
{"panel":"D","series":"0.1% L-agarose-gel 2-MoS₂","t":0,"dT":0,"err":0},{"panel":"D","series":"0.1% L-agarose-gel 2-MoS₂","t":1,"dT":6.2,"err":1.7},{"panel":"D","series":"0.1% L-agarose-gel 2-MoS₂","t":2,"dT":11.5,"err":1.8},{"panel":"D","series":"0.1% L-agarose-gel 2-MoS₂","t":3,"dT":12.0,"err":1.8},{"panel":"D","series":"0.1% L-agarose-gel 2-MoS₂","t":4,"dT":15.1,"err":1.9},{"panel":"D","series":"0.1% L-agarose-gel 2-MoS₂","t":5,"dT":15.8,"err":2.0},{"panel":"D","series":"0.1% L-agarose-gel 2-MoS₂","t":6,"dT":17.8,"err":2.0},{"panel":"D","series":"0.1% L-agarose-gel 2-MoS₂","t":7,"dT":19.0,"err":2.1},{"panel":"D","series":"0.1% L-agarose-gel 2-MoS₂","t":8,"dT":20.2,"err":2.1},{"panel":"D","series":"0.1% L-agarose-gel 2-MoS₂","t":9,"dT":20.3,"err":2.2},{"panel":"D","series":"0.1% L-agarose-gel 2-MoS₂","t":10,"dT":20.7,"err":2.2},
{"panel":"D","series":"0.1% L-agarose-gel 2-ICG","t":0,"dT":0,"err":0},{"panel":"D","series":"0.1% L-agarose-gel 2-ICG","t":1,"dT":9.5,"err":2.0},{"panel":"D","series":"0.1% L-agarose-gel 2-ICG","t":2,"dT":15.4,"err":2.1},{"panel":"D","series":"0.1% L-agarose-gel 2-ICG","t":3,"dT":18.5,"err":2.2},{"panel":"D","series":"0.1% L-agarose-gel 2-ICG","t":4,"dT":21.3,"err":2.3},{"panel":"D","series":"0.1% L-agarose-gel 2-ICG","t":5,"dT":23.1,"err":2.3},{"panel":"D","series":"0.1% L-agarose-gel 2-ICG","t":6,"dT":27.1,"err":2.4},{"panel":"D","series":"0.1% L-agarose-gel 2-ICG","t":7,"dT":28.4,"err":2.4},{"panel":"D","series":"0.1% L-agarose-gel 2-ICG","t":8,"dT":29.5,"err":2.5},{"panel":"D","series":"0.1% L-agarose-gel 2-ICG","t":9,"dT":30.4,"err":2.5},{"panel":"D","series":"0.1% L-agarose-gel 2-ICG","t":10,"dT":30.8,"err":2.6}
]},
"concat": [
{
 "width": 482, "height": 361,
 "title": {"text": "A"},
 "transform": [{"filter": "datum.panel === 'A'"}],
 "layer": [
  {
   "encoding": {
    "x": {"field": "t", "type": "quantitative", "scale": {"domain": [0, 11], "nice": false, "zero": false}, "axis": {"title": "Irradiation time (min)", "values": [0,0.5,1,1.5,2,2.5,3,3.5,4,4.5,5,5.5,6,6.5,7,7.5,8,8.5,9,9.5,10,10.5,11], "labelExpr": "datum.value % 1 === 0 ? format(datum.value, 'd') : ''", "tickSize": {"condition": {"test": "datum.value % 1 === 0", "value": 6}, "value": 3}}},
    "y": {"field": "dT", "type": "quantitative", "scale": {"domain": [0, 55], "nice": false}, "axis": {"title": "ΔT (°C)", "values": [0,5,10,15,20,25,30,35,40,45,50], "labelExpr": "datum.value % 10 === 0 ? format(datum.value, 'd') : ''", "tickSize": {"condition": {"test": "datum.value % 10 === 0", "value": 6}, "value": 3}}},
    "color": {"field": "series", "type": "nominal", "legend": null, "scale": {"domain": ["1% PAAm-gel 1-GO","1% PAAm-gel 1-CNTs","1% PAAm-gel 1-MoS₂","1% PAAm-gel 1-ICG","1% PNIPAAm-gel 1-GO","1% PNIPAAm-gel 1-CNTs","1% PNIPAAm-gel 1-MoS₂","1% PNIPAAm-gel 1-ICG"], "range": ["#000000","#FF0000","#0000FF","#008000","#FF00FF","#8000FF","#000080","#800080"]}}
   },
   "layer": [
    {"mark": {"type": "errorbar", "ticks": {"size": 8}, "thickness": 1.2}, "encoding": {"yError": {"field": "err"}}},
    {"mark": {"type": "line", "strokeWidth": 1.5}},
    {"mark": {"type": "point", "filled": true, "size": 45, "opacity": 1}, "encoding": {"shape": {"field": "series", "type": "nominal", "legend": null, "scale": {"domain": ["1% PAAm-gel 1-GO","1% PAAm-gel 1-CNTs","1% PAAm-gel 1-MoS₂","1% PAAm-gel 1-ICG","1% PNIPAAm-gel 1-GO","1% PNIPAAm-gel 1-CNTs","1% PNIPAAm-gel 1-MoS₂","1% PNIPAAm-gel 1-ICG"], "range": ["square","circle","triangle-up","diamond","triangle-down","triangle-right","triangle-left","circle"]}}}}
   ]
  },
  {
   "transform": [{"filter": "false"}],
   "mark": {"type": "point", "filled": true, "opacity": 1},
   "encoding": {
    "color": {"field": "series", "type": "nominal", "scale": {"domain": ["1% PAAm-gel 1-GO","1% PAAm-gel 1-CNTs","1% PAAm-gel 1-MoS₂","1% PAAm-gel 1-ICG"], "range": ["#000000","#FF0000","#0000FF","#008000"]}, "legend": {"orient": "none", "legendX": 8, "legendY": 7, "title": null, "symbolSize": 1150, "symbolStrokeWidth": 1.5, "labelFontSize": 14, "clipHeight": 20, "rowPadding": 2, "labelOffset": 4, "padding": 0}},
    "stroke": {"field": "series", "type": "nominal", "scale": {"domain": ["1% PAAm-gel 1-GO","1% PAAm-gel 1-CNTs","1% PAAm-gel 1-MoS₂","1% PAAm-gel 1-ICG"], "range": ["#000000","#FF0000","#0000FF","#008000"]}, "legend": {"orient": "none", "legendX": 8, "legendY": 7, "title": null, "symbolSize": 1150, "symbolStrokeWidth": 1.5, "labelFontSize": 14, "clipHeight": 20, "rowPadding": 2, "labelOffset": 4, "padding": 0}},
    "shape": {"field": "series", "type": "nominal", "scale": {"domain": ["1% PAAm-gel 1-GO","1% PAAm-gel 1-CNTs","1% PAAm-gel 1-MoS₂","1% PAAm-gel 1-ICG"], "range": ["M-1,0H1M-0.22,-0.22H0.22V0.22H-0.22Z","M-1,0H1M0.25,0A0.25,0.25,0,1,1,-0.25,0A0.25,0.25,0,1,1,0.25,0Z","M-1,0H1M0,-0.3L0.28,0.2H-0.28Z","M-1,0H1M0,-0.3L0.3,0L0,0.3L-0.3,0Z"]}, "legend": {"orient": "none", "legendX": 8, "legendY": 7, "title": null, "symbolSize": 1150, "symbolStrokeWidth": 1.5, "labelFontSize": 14, "clipHeight": 20, "rowPadding": 2, "labelOffset": 4, "padding": 0}}
   }
  },
  {
   "transform": [{"filter": "false"}],
   "mark": {"type": "point", "filled": true, "opacity": 1},
   "encoding": {
    "color": {"field": "series", "type": "nominal", "scale": {"domain": ["1% PNIPAAm-gel 1-GO","1% PNIPAAm-gel 1-CNTs","1% PNIPAAm-gel 1-MoS₂","1% PNIPAAm-gel 1-ICG"], "range": ["#FF00FF","#8000FF","#000080","#800080"]}, "legend": {"orient": "none", "legendX": 222, "legendY": 266, "title": null, "symbolSize": 1150, "symbolStrokeWidth": 1.5, "labelFontSize": 14, "clipHeight": 20, "rowPadding": 2, "labelOffset": 4, "padding": 0}},
    "stroke": {"field": "series", "type": "nominal", "scale": {"domain": ["1% PNIPAAm-gel 1-GO","1% PNIPAAm-gel 1-CNTs","1% PNIPAAm-gel 1-MoS₂","1% PNIPAAm-gel 1-ICG"], "range": ["#FF00FF","#8000FF","#000080","#800080"]}, "legend": {"orient": "none", "legendX": 222, "legendY": 266, "title": null, "symbolSize": 1150, "symbolStrokeWidth": 1.5, "labelFontSize": 14, "clipHeight": 20, "rowPadding": 2, "labelOffset": 4, "padding": 0}},
    "shape": {"field": "series", "type": "nominal", "scale": {"domain": ["1% PNIPAAm-gel 1-GO","1% PNIPAAm-gel 1-CNTs","1% PNIPAAm-gel 1-MoS₂","1% PNIPAAm-gel 1-ICG"], "range": ["M-1,0H1M0,0.3L0.28,-0.2H-0.28Z","M-1,0H1M0.3,0L-0.2,-0.28V0.28Z","M-1,0H1M-0.3,0L0.2,-0.28V0.28Z","M-1,0H1M0.25,0A0.25,0.25,0,1,1,-0.25,0A0.25,0.25,0,1,1,0.25,0Z"]}, "legend": {"orient": "none", "legendX": 222, "legendY": 266, "title": null, "symbolSize": 1150, "symbolStrokeWidth": 1.5, "labelFontSize": 14, "clipHeight": 20, "rowPadding": 2, "labelOffset": 4, "padding": 0}}
   }
  }
 ],
 "resolve": {"scale": {"color": "independent", "stroke": "independent", "shape": "independent"}}
},
{
 "width": 482, "height": 361,
 "title": {"text": "B"},
 "transform": [{"filter": "datum.panel === 'B'"}],
 "layer": [
  {
   "encoding": {
    "x": {"field": "t", "type": "quantitative", "scale": {"domain": [0, 11], "nice": false, "zero": false}, "axis": {"title": "Irradiation time (min)", "values": [0,0.5,1,1.5,2,2.5,3,3.5,4,4.5,5,5.5,6,6.5,7,7.5,8,8.5,9,9.5,10,10.5,11], "labelExpr": "datum.value % 1 === 0 ? format(datum.value, 'd') : ''", "tickSize": {"condition": {"test": "datum.value % 1 === 0", "value": 6}, "value": 3}}},
    "y": {"field": "dT", "type": "quantitative", "scale": {"domain": [0, 55], "nice": false}, "axis": {"title": "ΔT (°C)", "values": [0,5,10,15,20,25,30,35,40,45,50], "labelExpr": "datum.value % 10 === 0 ? format(datum.value, 'd') : ''", "tickSize": {"condition": {"test": "datum.value % 10 === 0", "value": 6}, "value": 3}}},
    "color": {"field": "series", "type": "nominal", "legend": null, "scale": {"domain": ["1% PAAm-gel 2-GO","1% PAAm-gel 2-CNTs","1% PAAm-gel 2-MoS₂","1% PAAm-gel 2-ICG","1% PNIPAAm-gel 2-GO","1% PNIPAAm-gel 2-CNTs","1% PNIPAAm-gel 2-MoS₂","1% PNIPAAm-gel 2-ICG"], "range": ["#000000","#FF0000","#0000FF","#008000","#FF00FF","#8000FF","#000080","#800080"]}}
   },
   "layer": [
    {"mark": {"type": "errorbar", "ticks": {"size": 8}, "thickness": 1.2}, "encoding": {"yError": {"field": "err"}}},
    {"mark": {"type": "line", "strokeWidth": 1.5}},
    {"mark": {"type": "point", "filled": true, "size": 45, "opacity": 1}, "encoding": {"shape": {"field": "series", "type": "nominal", "legend": null, "scale": {"domain": ["1% PAAm-gel 2-GO","1% PAAm-gel 2-CNTs","1% PAAm-gel 2-MoS₂","1% PAAm-gel 2-ICG","1% PNIPAAm-gel 2-GO","1% PNIPAAm-gel 2-CNTs","1% PNIPAAm-gel 2-MoS₂","1% PNIPAAm-gel 2-ICG"], "range": ["square","circle","triangle-up","diamond","triangle-down","triangle-right","triangle-left","circle"]}}}}
   ]
  },
  {
   "transform": [{"filter": "false"}],
   "mark": {"type": "point", "filled": true, "opacity": 1},
   "encoding": {
    "color": {"field": "series", "type": "nominal", "scale": {"domain": ["1% PAAm-gel 2-GO","1% PAAm-gel 2-CNTs","1% PAAm-gel 2-MoS₂","1% PAAm-gel 2-ICG"], "range": ["#000000","#FF0000","#0000FF","#008000"]}, "legend": {"orient": "none", "legendX": 8, "legendY": 7, "title": null, "symbolSize": 1150, "symbolStrokeWidth": 1.5, "labelFontSize": 14, "clipHeight": 20, "rowPadding": 2, "labelOffset": 4, "padding": 0}},
    "stroke": {"field": "series", "type": "nominal", "scale": {"domain": ["1% PAAm-gel 2-GO","1% PAAm-gel 2-CNTs","1% PAAm-gel 2-MoS₂","1% PAAm-gel 2-ICG"], "range": ["#000000","#FF0000","#0000FF","#008000"]}, "legend": {"orient": "none", "legendX": 8, "legendY": 7, "title": null, "symbolSize": 1150, "symbolStrokeWidth": 1.5, "labelFontSize": 14, "clipHeight": 20, "rowPadding": 2, "labelOffset": 4, "padding": 0}},
    "shape": {"field": "series", "type": "nominal", "scale": {"domain": ["1% PAAm-gel 2-GO","1% PAAm-gel 2-CNTs","1% PAAm-gel 2-MoS₂","1% PAAm-gel 2-ICG"], "range": ["M-1,0H1M-0.22,-0.22H0.22V0.22H-0.22Z","M-1,0H1M0.25,0A0.25,0.25,0,1,1,-0.25,0A0.25,0.25,0,1,1,0.25,0Z","M-1,0H1M0,-0.3L0.28,0.2H-0.28Z","M-1,0H1M0,-0.3L0.3,0L0,0.3L-0.3,0Z"]}, "legend": {"orient": "none", "legendX": 8, "legendY": 7, "title": null, "symbolSize": 1150, "symbolStrokeWidth": 1.5, "labelFontSize": 14, "clipHeight": 20, "rowPadding": 2, "labelOffset": 4, "padding": 0}}
   }
  },
  {
   "transform": [{"filter": "false"}],
   "mark": {"type": "point", "filled": true, "opacity": 1},
   "encoding": {
    "color": {"field": "series", "type": "nominal", "scale": {"domain": ["1% PNIPAAm-gel 2-GO","1% PNIPAAm-gel 2-CNTs","1% PNIPAAm-gel 2-MoS₂","1% PNIPAAm-gel 2-ICG"], "range": ["#FF00FF","#8000FF","#000080","#800080"]}, "legend": {"orient": "none", "legendX": 222, "legendY": 266, "title": null, "symbolSize": 1150, "symbolStrokeWidth": 1.5, "labelFontSize": 14, "clipHeight": 20, "rowPadding": 2, "labelOffset": 4, "padding": 0}},
    "stroke": {"field": "series", "type": "nominal", "scale": {"domain": ["1% PNIPAAm-gel 2-GO","1% PNIPAAm-gel 2-CNTs","1% PNIPAAm-gel 2-MoS₂","1% PNIPAAm-gel 2-ICG"], "range": ["#FF00FF","#8000FF","#000080","#800080"]}, "legend": {"orient": "none", "legendX": 222, "legendY": 266, "title": null, "symbolSize": 1150, "symbolStrokeWidth": 1.5, "labelFontSize": 14, "clipHeight": 20, "rowPadding": 2, "labelOffset": 4, "padding": 0}},
    "shape": {"field": "series", "type": "nominal", "scale": {"domain": ["1% PNIPAAm-gel 2-GO","1% PNIPAAm-gel 2-CNTs","1% PNIPAAm-gel 2-MoS₂","1% PNIPAAm-gel 2-ICG"], "range": ["M-1,0H1M0,0.3L0.28,-0.2H-0.28Z","M-1,0H1M0.3,0L-0.2,-0.28V0.28Z","M-1,0H1M-0.3,0L0.2,-0.28V0.28Z","M-1,0H1M0.25,0A0.25,0.25,0,1,1,-0.25,0A0.25,0.25,0,1,1,0.25,0Z"]}, "legend": {"orient": "none", "legendX": 222, "legendY": 266, "title": null, "symbolSize": 1150, "symbolStrokeWidth": 1.5, "labelFontSize": 14, "clipHeight": 20, "rowPadding": 2, "labelOffset": 4, "padding": 0}}
   }
  }
 ],
 "resolve": {"scale": {"color": "independent", "stroke": "independent", "shape": "independent"}}
},
{
 "width": 482, "height": 360,
 "title": {"text": "C"},
 "transform": [{"filter": "datum.panel === 'C'"}],
 "layer": [
  {
   "encoding": {
    "x": {"field": "t", "type": "quantitative", "scale": {"domain": [0, 11], "nice": false, "zero": false}, "axis": {"title": "Irradiation time (min)", "values": [0,0.5,1,1.5,2,2.5,3,3.5,4,4.5,5,5.5,6,6.5,7,7.5,8,8.5,9,9.5,10,10.5,11], "labelExpr": "datum.value % 1 === 0 ? format(datum.value, 'd') : ''", "tickSize": {"condition": {"test": "datum.value % 1 === 0", "value": 6}, "value": 3}}},
    "y": {"field": "dT", "type": "quantitative", "scale": {"domain": [0, 55], "nice": false}, "axis": {"title": "ΔT (°C)", "values": [0,5,10,15,20,25,30,35,40,45,50], "labelExpr": "datum.value % 10 === 0 ? format(datum.value, 'd') : ''", "tickSize": {"condition": {"test": "datum.value % 10 === 0", "value": 6}, "value": 3}}},
    "color": {"field": "series", "type": "nominal", "legend": null, "scale": {"domain": ["0.1% Agarose-gel 1-GO","0.1% Agarose-gel 1-CNTs","0.1% Agarose-gel 1-MoS₂","0.1% Agarose-gel 1-ICG","0.1% L-agarose-gel 1-GO","0.1% L-agarose-gel 1-CNTs","0.1% L-agarose-gel 1-MoS₂","0.1% L-agarose-gel 1-ICG"], "range": ["#000000","#FF0000","#0000FF","#8000FF","#FF00FF","#008000","#000080","#800080"]}}
   },
   "layer": [
    {"mark": {"type": "errorbar", "ticks": {"size": 8}, "thickness": 1.2}, "encoding": {"yError": {"field": "err"}}},
    {"mark": {"type": "line", "strokeWidth": 1.5}},
    {"mark": {"type": "point", "filled": true, "size": 45, "opacity": 1}, "encoding": {"shape": {"field": "series", "type": "nominal", "legend": null, "scale": {"domain": ["0.1% Agarose-gel 1-GO","0.1% Agarose-gel 1-CNTs","0.1% Agarose-gel 1-MoS₂","0.1% Agarose-gel 1-ICG","0.1% L-agarose-gel 1-GO","0.1% L-agarose-gel 1-CNTs","0.1% L-agarose-gel 1-MoS₂","0.1% L-agarose-gel 1-ICG"], "range": ["square","circle","triangle-up","triangle-right","triangle-down","diamond","triangle-left","circle"]}}}}
   ]
  },
  {
   "transform": [{"filter": "false"}],
   "mark": {"type": "point", "filled": true, "opacity": 1},
   "encoding": {
    "color": {"field": "series", "type": "nominal", "scale": {"domain": ["0.1% Agarose-gel 1-GO","0.1% Agarose-gel 1-CNTs","0.1% Agarose-gel 1-MoS₂","0.1% Agarose-gel 1-ICG","0.1% L-agarose-gel 1-GO","0.1% L-agarose-gel 1-CNTs","0.1% L-agarose-gel 1-MoS₂","0.1% L-agarose-gel 1-ICG"], "range": ["#000000","#FF0000","#0000FF","#8000FF","#FF00FF","#008000","#000080","#800080"]}, "legend": {"orient": "none", "legendX": 2, "legendY": 6, "title": null, "symbolSize": 1764, "symbolStrokeWidth": 1.5, "labelFontSize": 13, "clipHeight": 21, "rowPadding": 1.5, "labelOffset": 4, "padding": 0}},
    "stroke": {"field": "series", "type": "nominal", "scale": {"domain": ["0.1% Agarose-gel 1-GO","0.1% Agarose-gel 1-CNTs","0.1% Agarose-gel 1-MoS₂","0.1% Agarose-gel 1-ICG","0.1% L-agarose-gel 1-GO","0.1% L-agarose-gel 1-CNTs","0.1% L-agarose-gel 1-MoS₂","0.1% L-agarose-gel 1-ICG"], "range": ["#000000","#FF0000","#0000FF","#8000FF","#FF00FF","#008000","#000080","#800080"]}, "legend": {"orient": "none", "legendX": 2, "legendY": 6, "title": null, "symbolSize": 1764, "symbolStrokeWidth": 1.5, "labelFontSize": 13, "clipHeight": 21, "rowPadding": 1.5, "labelOffset": 4, "padding": 0}},
    "shape": {"field": "series", "type": "nominal", "scale": {"domain": ["0.1% Agarose-gel 1-GO","0.1% Agarose-gel 1-CNTs","0.1% Agarose-gel 1-MoS₂","0.1% Agarose-gel 1-ICG","0.1% L-agarose-gel 1-GO","0.1% L-agarose-gel 1-CNTs","0.1% L-agarose-gel 1-MoS₂","0.1% L-agarose-gel 1-ICG"], "range": ["M-1,0H1M-0.18,-0.18H0.18V0.18H-0.18Z","M-1,0H1M0.2,0A0.2,0.2,0,1,1,-0.2,0A0.2,0.2,0,1,1,0.2,0Z","M-1,0H1M0,-0.24L0.23,0.16H-0.23Z","M-1,0H1M0.24,0L-0.16,-0.23V0.23Z","M-1,0H1M0,0.24L0.23,-0.16H-0.23Z","M-1,0H1M0,-0.25L0.25,0L0,0.25L-0.25,0Z","M-1,0H1M-0.24,0L0.16,-0.23V0.23Z","M-1,0H1M0.2,0A0.2,0.2,0,1,1,-0.2,0A0.2,0.2,0,1,1,0.2,0Z"]}, "legend": {"orient": "none", "legendX": 2, "legendY": 6, "title": null, "symbolSize": 1764, "symbolStrokeWidth": 1.5, "labelFontSize": 13, "clipHeight": 21, "rowPadding": 1.5, "labelOffset": 4, "padding": 0}}
   }
  }
 ],
 "resolve": {"scale": {"color": "independent", "stroke": "independent", "shape": "independent"}}
},
{
 "width": 482, "height": 360,
 "title": {"text": "D"},
 "transform": [{"filter": "datum.panel === 'D'"}],
 "layer": [
  {
   "encoding": {
    "x": {"field": "t", "type": "quantitative", "scale": {"domain": [0, 11], "nice": false, "zero": false}, "axis": {"title": "Irradiation time (min)", "values": [0,0.5,1,1.5,2,2.5,3,3.5,4,4.5,5,5.5,6,6.5,7,7.5,8,8.5,9,9.5,10,10.5,11], "labelExpr": "datum.value % 1 === 0 ? format(datum.value, 'd') : ''", "tickSize": {"condition": {"test": "datum.value % 1 === 0", "value": 6}, "value": 3}}},
    "y": {"field": "dT", "type": "quantitative", "scale": {"domain": [0, 55], "nice": false}, "axis": {"title": "ΔT (°C)", "values": [0,5,10,15,20,25,30,35,40,45,50], "labelExpr": "datum.value % 10 === 0 ? format(datum.value, 'd') : ''", "tickSize": {"condition": {"test": "datum.value % 10 === 0", "value": 6}, "value": 3}}},
    "color": {"field": "series", "type": "nominal", "legend": null, "scale": {"domain": ["0.1% Agarose-gel 2-GO","0.1% Agarose-gel 2-CNTs","0.1% Agarose-gel 2-MoS₂","0.1% Agarose-gel 2-ICG","0.1% L-agarose-gel 2-GO","0.1% L-agarose-gel 2-CNTs","0.1% L-agarose-gel 2-MoS₂","0.1% L-agarose-gel 2-ICG"], "range": ["#000000","#FF0000","#0000FF","#8000FF","#FF00FF","#008000","#000080","#800080"]}}
   },
   "layer": [
    {"mark": {"type": "errorbar", "ticks": {"size": 8}, "thickness": 1.2}, "encoding": {"yError": {"field": "err"}}},
    {"mark": {"type": "line", "strokeWidth": 1.5}},
    {"mark": {"type": "point", "filled": true, "size": 45, "opacity": 1}, "encoding": {"shape": {"field": "series", "type": "nominal", "legend": null, "scale": {"domain": ["0.1% Agarose-gel 2-GO","0.1% Agarose-gel 2-CNTs","0.1% Agarose-gel 2-MoS₂","0.1% Agarose-gel 2-ICG","0.1% L-agarose-gel 2-GO","0.1% L-agarose-gel 2-CNTs","0.1% L-agarose-gel 2-MoS₂","0.1% L-agarose-gel 2-ICG"], "range": ["square","circle","triangle-up","triangle-right","triangle-down","diamond","triangle-left","circle"]}}}}
   ]
  },
  {
   "transform": [{"filter": "false"}],
   "mark": {"type": "point", "filled": true, "opacity": 1},
   "encoding": {
    "color": {"field": "series", "type": "nominal", "scale": {"domain": ["0.1% Agarose-gel 2-GO","0.1% Agarose-gel 2-CNTs","0.1% Agarose-gel 2-MoS₂","0.1% Agarose-gel 2-ICG","0.1% L-agarose-gel 2-GO","0.1% L-agarose-gel 2-CNTs","0.1% L-agarose-gel 2-MoS₂","0.1% L-agarose-gel 2-ICG"], "range": ["#000000","#FF0000","#0000FF","#8000FF","#FF00FF","#008000","#000080","#800080"]}, "legend": {"orient": "none", "legendX": 3, "legendY": 6, "title": null, "symbolSize": 1764, "symbolStrokeWidth": 1.5, "labelFontSize": 13, "clipHeight": 21, "rowPadding": 1.5, "labelOffset": 4, "padding": 0}},
    "stroke": {"field": "series", "type": "nominal", "scale": {"domain": ["0.1% Agarose-gel 2-GO","0.1% Agarose-gel 2-CNTs","0.1% Agarose-gel 2-MoS₂","0.1% Agarose-gel 2-ICG","0.1% L-agarose-gel 2-GO","0.1% L-agarose-gel 2-CNTs","0.1% L-agarose-gel 2-MoS₂","0.1% L-agarose-gel 2-ICG"], "range": ["#000000","#FF0000","#0000FF","#8000FF","#FF00FF","#008000","#000080","#800080"]}, "legend": {"orient": "none", "legendX": 3, "legendY": 6, "title": null, "symbolSize": 1764, "symbolStrokeWidth": 1.5, "labelFontSize": 13, "clipHeight": 21, "rowPadding": 1.5, "labelOffset": 4, "padding": 0}},
    "shape": {"field": "series", "type": "nominal", "scale": {"domain": ["0.1% Agarose-gel 2-GO","0.1% Agarose-gel 2-CNTs","0.1% Agarose-gel 2-MoS₂","0.1% Agarose-gel 2-ICG","0.1% L-agarose-gel 2-GO","0.1% L-agarose-gel 2-CNTs","0.1% L-agarose-gel 2-MoS₂","0.1% L-agarose-gel 2-ICG"], "range": ["M-1,0H1M-0.18,-0.18H0.18V0.18H-0.18Z","M-1,0H1M0.2,0A0.2,0.2,0,1,1,-0.2,0A0.2,0.2,0,1,1,0.2,0Z","M-1,0H1M0,-0.24L0.23,0.16H-0.23Z","M-1,0H1M0.24,0L-0.16,-0.23V0.23Z","M-1,0H1M0,0.24L0.23,-0.16H-0.23Z","M-1,0H1M0,-0.25L0.25,0L0,0.25L-0.25,0Z","M-1,0H1M-0.24,0L0.16,-0.23V0.23Z","M-1,0H1M0.2,0A0.2,0.2,0,1,1,-0.2,0A0.2,0.2,0,1,1,0.2,0Z"]}, "legend": {"orient": "none", "legendX": 3, "legendY": 6, "title": null, "symbolSize": 1764, "symbolStrokeWidth": 1.5, "labelFontSize": 13, "clipHeight": 21, "rowPadding": 1.5, "labelOffset": 4, "padding": 0}}
   }
  }
 ],
 "resolve": {"scale": {"color": "independent", "stroke": "independent", "shape": "independent"}}
}
],
"config": {
 "font": "Liberation Sans",
 "background": "white",
 "view": {"stroke": "black", "strokeWidth": 2},
 "axis": {"grid": false, "domainColor": "black", "domainWidth": 2, "tickColor": "black", "tickWidth": 2, "labelFont": "Liberation Sans", "labelFontSize": 24, "labelFontWeight": "bold", "labelColor": "black", "labelPadding": 2, "labelOverlap": false, "labelBound": false, "titleFont": "Liberation Sans", "titleFontWeight": "bold", "titleColor": "black"},
 "axisX": {"labelFlush": false, "titlePadding": 3, "titleFontSize": 40},
 "axisY": {"titlePadding": 18, "titleFontSize": 44},
 "legend": {"labelFont": "Liberation Sans", "labelFontWeight": "bold", "labelColor": "#1a1a1a", "labelLimit": 0},
 "title": {"anchor": "start", "frame": "group", "font": "Liberation Sans", "fontSize": 36, "fontWeight": "bold", "color": "black", "dx": -84, "dy": 26, "offset": 0}
}
}
